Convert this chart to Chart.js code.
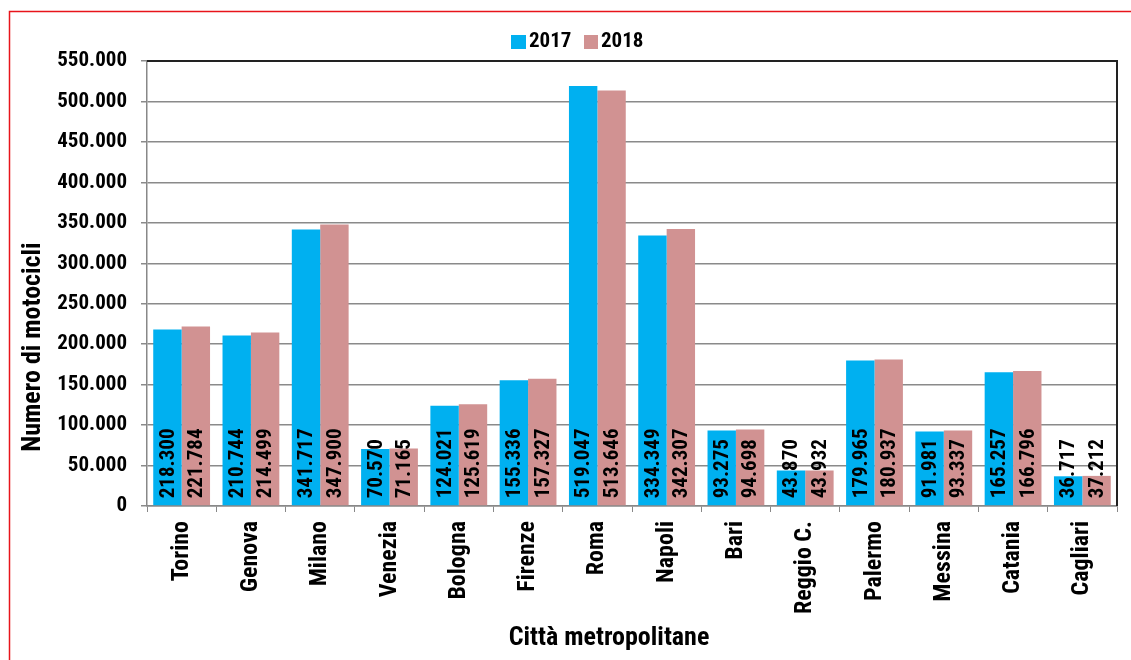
<!DOCTYPE html>
<html>
<head>
<meta charset="utf-8">
<script src="https://cdn.jsdelivr.net/npm/chart.js@4.4.1/dist/chart.umd.min.js"></script>
<style>
html,body{margin:0;padding:0;background:#fff;}
canvas{display:block;}
</style>
</head>
<body>
<canvas id="c" width="1131" height="660"></canvas>
<script>
const categories = ['Torino','Genova','Milano','Venezia','Bologna','Firenze','Roma','Napoli','Bari','Reggio C.','Palermo','Messina','Catania','Cagliari'];
const values2017 = [218300,210744,341717,70570,124021,155336,519047,334349,93275,43870,179965,91981,165257,36717];
const values2018 = [221784,214499,347900,71165,125619,157327,513646,342307,94698,43932,180937,93337,166796,37212];
const seriesNames = ['2017','2018'];
const yTitle = 'Numero di motocicli';
const xTitle = 'Città metropolitane';

const FONT = '"Liberation Sans Narrow", "Arial Narrow", "Roboto Condensed", Arial, sans-serif';
const BLUE = '#00B0F0';
const PINK = '#D19292';

function fmt(n){ return String(n).replace(/\B(?=(\d{3})+(?!\d))/g,'.'); }

const decor = {
  id:'decor',
  beforeDraw(chart){
    const ctx = chart.ctx;
    ctx.save();
    ctx.fillStyle='#fff';
    ctx.fillRect(0,0,chart.width,chart.height);
    ctx.strokeStyle='#E8141B';
    ctx.lineWidth=1.5;
    ctx.strokeRect(9.5,11.5,chart.width+20,chart.height+20);
    ctx.restore();
  },
  afterDatasetsDraw(chart){
    const ctx = chart.ctx;
    ctx.save();
    ctx.font = 'bold 21px '+FONT;
    ctx.fillStyle='#000';
    ctx.textAlign='left';
    ctx.textBaseline='middle';
    chart.data.datasets.forEach((ds,di)=>{
      const meta = chart.getDatasetMeta(di);
      meta.data.forEach((el,i)=>{
        ctx.save();
        ctx.translate(el.x+1, el.base-7);
        ctx.rotate(-Math.PI/2);
        ctx.fillText(fmt(ds.data[i]),0,0);
        ctx.restore();
      });
    });
    ctx.restore();
  },
  afterDraw(chart){
    const ctx = chart.ctx;
    const a = chart.chartArea;
    ctx.save();
    ctx.strokeStyle='#222';
    ctx.lineWidth=2;
    ctx.beginPath();
    ctx.moveTo(a.left,a.top);
    ctx.lineTo(a.right,a.top);
    ctx.lineTo(a.right,a.bottom);
    ctx.stroke();
    ctx.font='bold 21px '+FONT;
    ctx.textBaseline='middle';
    ctx.textAlign='left';
    ctx.fillStyle=BLUE; ctx.fillRect(511,35,15,14);
    ctx.fillStyle='#000'; ctx.fillText(seriesNames[0],529,42);
    ctx.fillStyle=PINK; ctx.fillRect(584,35,14,14);
    ctx.fillStyle='#000'; ctx.fillText(seriesNames[1],601,42);
    ctx.font='bold 26px '+FONT;
    ctx.textAlign='center';
    ctx.fillText(xTitle,609,638);
    ctx.save();
    ctx.translate(33,347);
    ctx.rotate(-Math.PI/2);
    ctx.fillText(yTitle,0,0);
    ctx.restore();
    ctx.restore();
  }
};

new Chart(document.getElementById('c'),{
  type:'bar',
  data:{
    labels:categories,
    datasets:[
      {label:seriesNames[0],data:values2017,backgroundColor:BLUE,borderWidth:0,categoryPercentage:0.82,barPercentage:1},
      {label:seriesNames[1],data:values2018,backgroundColor:PINK,borderWidth:0,categoryPercentage:0.82,barPercentage:1}
    ]
  },
  options:{
    responsive:false,
    animation:false,
    devicePixelRatio:1,
    layout:{padding:{left:0,top:61,right:14,bottom:0}},
    plugins:{legend:{display:false},tooltip:{enabled:false}},
    scales:{
      x:{
        offset:true,
        grid:{display:true,drawOnChartArea:false,drawTicks:true,tickLength:6,color:'#888',offset:true},
        border:{display:true,color:'#888',width:1.5},
        ticks:{autoSkip:false,maxRotation:90,minRotation:90,padding:9,color:'#000',font:{family:FONT,size:24,weight:'bold'}},
        afterFit(s){ s.height=154; }
      },
      y:{
        min:0,max:550000,
        grid:{color:'#8a8a8a',lineWidth:1.5,tickLength:6,drawTicks:true},
        border:{display:true,color:'#888',width:1.5},
        ticks:{stepSize:50000,padding:14,color:'#000',font:{family:FONT,size:21,weight:'bold'},callback:(v)=>fmt(v)},
        afterFit(s){ s.width=147; }
      }
    }
  },
  plugins:[decor]
});
</script>
</body>
</html>
